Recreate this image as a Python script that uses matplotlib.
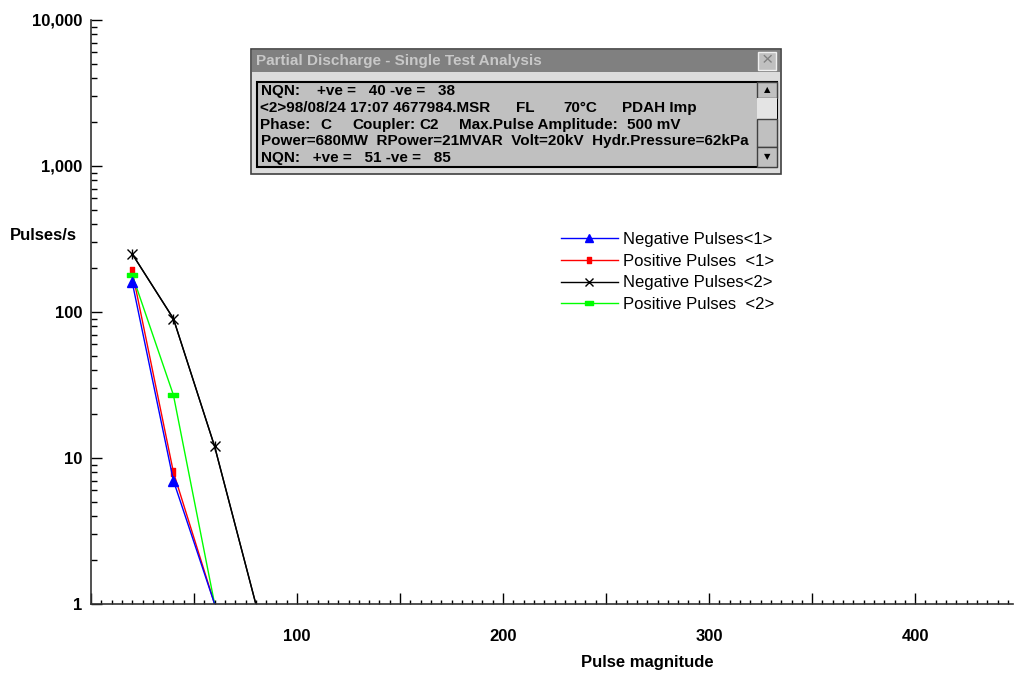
import matplotlib
matplotlib.use("Agg")
import matplotlib.pyplot as plt
from matplotlib.patches import Rectangle
from matplotlib.path import Path
from matplotlib.ticker import MultipleLocator, LogLocator, FuncFormatter, NullFormatter

plt.rcParams["font.family"] = ["Liberation Sans", "DejaVu Sans"]

# data
x1 = [20, 40, 60]
x2 = [20, 40, 60, 80]
neg1 = [160, 7, 1]
pos1 = [190, 8, 1]
neg2 = [250, 90, 12, 1]
pos2 = [180, 27, 1]

labels = ["Negative Pulses<1>", "Positive Pulses  <1>",
          "Negative Pulses<2>", "Positive Pulses  <2>"]

dialog_title = "Partial Discharge - Single Test Analysis"
# each row: list of (text, x pixel) pieces
dialog_rows = [
    [("NQN:    +ve =   40 -ve =   38", 261)],
    [("<2>98/08/24 17:07 4677984.MSR", 260), ("FL", 516), ("70°C", 563),
     ("PDAH Imp", 622)],
    [("Phase:", 260), ("C", 320), ("Coupler:", 352), ("C2", 419),
     ("Max.Pulse Amplitude:", 459), ("500 mV", 627)],
    [("Power=680MW  RPower=21MVAR  Volt=20kV  Hydr.Pressure=62kPa", 261)],
    [("NQN:   +ve =   51 -ve =   85", 261)],
]
row_y = [90.5, 108, 125, 141.5, 158]

W, H = 1014, 673
fig = plt.figure(figsize=(W / 100, H / 100), dpi=100)
ax = fig.add_axes([91 / W, (H - 604) / H, (1013 - 91) / W, (604 - 20) / H])

rect_v = Path([(-0.5, -1), (0.5, -1), (0.5, 1), (-0.5, 1), (-0.5, -1)],
              [1, 2, 2, 2, 79])
rect_h = Path([(-1, -0.45), (1, -0.45), (1, 0.45), (-1, 0.45), (-1, -0.45)],
              [1, 2, 2, 2, 79])

lw = 1.0
ax.plot(x2, neg2, color="black", lw=lw, marker="|", ms=7.5, mew=1,
        markevery=list(range(len(x2) - 1)))
h_neg2, = ax.plot(x2, neg2, color="black", lw=lw, marker="x", ms=7, mew=1,
                  markevery=list(range(len(x2) - 1)), label=labels[2])
h_pos1, = ax.plot(x1, pos1, color="#ff0000", lw=lw, marker=rect_v, ms=6,
                  markevery=[0, 1], label=labels[1])
h_pos2, = ax.plot(x1, pos2, color="#00ff00", lw=lw, marker=rect_h, ms=7.5,
                  markevery=[0, 1], label=labels[3])
h_neg1, = ax.plot(x1, neg1, color="#0000ff", lw=lw, marker="^", ms=7,
                  markevery=[0, 1], label=labels[0])

ax.set_yscale("log")
ax.set_ylim(1, 10000)
ax.set_xlim(0, 447.5)

ax.xaxis.set_major_locator(MultipleLocator(50))
ax.xaxis.set_minor_locator(MultipleLocator(5))
ax.xaxis.set_major_formatter(FuncFormatter(
    lambda v, p: f"{v:.0f}" if v > 0 and round(v) % 100 == 0 else ""))
ax.yaxis.set_major_locator(LogLocator(base=10, numticks=10))
ax.yaxis.set_minor_locator(LogLocator(base=10, subs=range(2, 10), numticks=50))
ax.yaxis.set_major_formatter(FuncFormatter(lambda v, p: f"{v:,.0f}"))
ax.yaxis.set_minor_formatter(NullFormatter())

ax.tick_params(axis="x", which="major", direction="in", length=8, width=1,
               pad=18, labelsize=12)
ax.tick_params(axis="x", which="minor", direction="in", length=3, width=1)
ax.tick_params(axis="y", which="major", direction="in", length=8, width=1,
               pad=6, labelsize=12)
ax.tick_params(axis="y", which="minor", direction="in", length=4.5, width=1)
for lab in ax.get_xticklabels() + ax.get_yticklabels():
    lab.set_fontweight("bold")

for s in ["top", "right"]:
    ax.spines[s].set_visible(False)
for s in ["left", "bottom"]:
    ax.spines[s].set_color("#333333")
    ax.spines[s].set_linewidth(1.2)
ax.patch.set_alpha(0)

fig.text(10 / W, 1 - 235 / H, "Pulses/s", fontsize=12, fontweight="bold",
         ha="left", va="center")
fig.text(647 / W, 1 - 662 / H, "Pulse magnitude", fontsize=12,
         fontweight="bold", ha="center", va="center")

leg = ax.legend(handles=[h_neg1, h_pos1, h_neg2, h_pos2], loc="upper left",
                bbox_to_anchor=(561 / W, 1 - 232 / H),
                bbox_transform=fig.transFigure, frameon=False, fontsize=12,
                handlelength=3.4, handletextpad=0.3, labelspacing=0.4,
                borderpad=0, borderaxespad=0, markerscale=0.8)


# dialog box drawn in pixel coordinates
def px_rect(x0, y0, x1, y1, **kw):
    r = Rectangle((x0 / W, 1 - y1 / H), (x1 - x0) / W, (y1 - y0) / H,
                  transform=fig.transFigure, **kw)
    fig.patches.append(r)
    return r


px_rect(251, 49, 781, 174, facecolor="#dcdcdc", edgecolor="#404040", lw=1.2)
px_rect(252, 50, 780, 72, facecolor="#808080", edgecolor="none")
fig.text(256 / W, 1 - 61 / H, dialog_title, fontsize=11, fontweight="bold",
         color="#c8c8c8", ha="left", va="center")
px_rect(758, 52, 776, 70, facecolor="#c0c0c0", edgecolor="#f0f0f0", lw=1)
fig.text(767 / W, 1 - 61 / H, "×", fontsize=14, color="#808080",
         ha="center", va="center")
px_rect(257, 82, 777, 167, facecolor="#c0c0c0", edgecolor="black", lw=1.5)

# scrollbar
px_rect(757, 82, 777, 98, facecolor="#c0c0c0", edgecolor="#404040", lw=1)
px_rect(757, 98, 777, 119, facecolor="#e4e4e4", edgecolor="none")
px_rect(757, 119, 777, 147, facecolor="#c0c0c0", edgecolor="#404040", lw=1)
px_rect(757, 147, 777, 167, facecolor="#c0c0c0", edgecolor="#404040", lw=1)
fig.text(767 / W, 1 - 90 / H, "▲", fontsize=6, color="black",
         ha="center", va="center", family="DejaVu Sans")
fig.text(767 / W, 1 - 157 / H, "▼", fontsize=6, color="black",
         ha="center", va="center", family="DejaVu Sans")

for yy, pieces in zip(row_y, dialog_rows):
    for txt, xx in pieces:
        fig.text(xx / W, 1 - yy / H, txt, fontsize=11, fontweight="bold",
                 color="black", ha="left", va="center")

fig.savefig("out.png", dpi=100)
